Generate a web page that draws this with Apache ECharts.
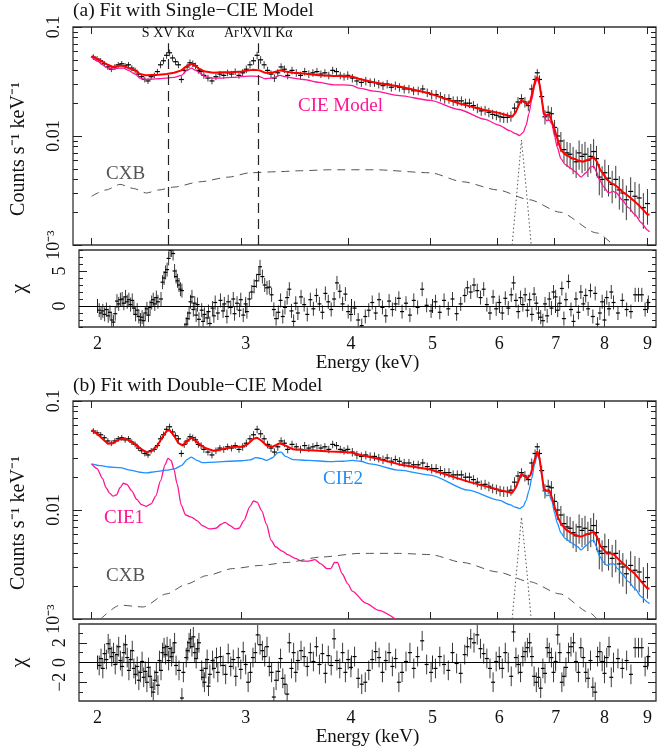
<!DOCTYPE html>
<html><head><meta charset="utf-8">
<script src="https://cdn.jsdelivr.net/npm/echarts@6/dist/echarts.min.js"></script>
<style>html,body{margin:0;padding:0;background:#fff}#c{width:657px;height:752px}</style>
</head><body><div id="c"></div><script>
// ---------------- data ----------------
const xTicks = [2, 3, 4, 5, 6, 7, 8, 9];
const yMajor = [0.001, 0.01, 0.1];
const resATicks = [0, 5];
const resBTicks = [-2, 0, 2];

// observed spectrum (same data in both panels)
const dataE = [2.01,2.03,2.05,2.07,2.09,2.11,2.13,2.15,2.17,2.19,2.21,2.23,2.25,2.27,2.29,2.31,2.33,2.35,2.37,2.39,
2.41,2.43,2.45,2.47,2.49,2.51,2.53,2.55,2.57,2.59,2.61,2.63,2.65,2.67,2.69,2.71,2.74,2.77,2.80,2.83,2.86,2.89,2.92,2.95,2.98,
3.01,3.04,3.07,3.10,3.13,3.16,3.19,3.22,3.25,3.28,3.31,3.34,3.37,3.40,3.44,3.48,3.52,3.56,3.60,3.64,3.68,3.72,3.76,3.80,3.84,3.88,3.92,3.96,
4.00,4.05,4.10,4.15,4.20,4.25,4.30,4.35,4.40,4.45,4.50,4.55,4.60,4.66,4.72,4.78,4.84,4.90,4.96,
5.02,5.08,5.14,5.20,5.26,5.32,5.38,5.44,5.50,5.56,5.62,5.68,5.74,5.80,5.86,5.92,5.98,
6.04,6.10,6.16,6.22,6.28,6.34,6.40,6.46,6.52,6.58,6.64,6.68,6.72,6.76,6.82,6.88,6.94,
7.00,7.06,7.12,7.18,7.24,7.30,7.36,7.42,7.48,7.54,7.60,7.66,7.72,7.78,7.84,7.90,7.96,
8.02,8.10,8.18,8.26,8.34,8.42,8.50,8.60,8.70,8.80,8.90,9.00];
const dataV = [0.053,0.051,0.049,0.046,0.043,0.041,0.043,0.045,0.046,0.044,0.045,0.042,0.040,0.037,0.035,0.033,0.032,0.035,0.036,0.039,
0.045,0.049,0.055,0.058,0.052,0.048,0.045,0.033,0.040,0.043,0.047,0.046,0.044,0.040,0.039,0.036,0.034,0.032,0.035,0.037,0.036,0.038,0.037,0.039,0.036,
0.038,0.041,0.045,0.049,0.055,0.050,0.045,0.040,0.037,0.034,0.038,0.043,0.041,0.036,0.040,0.038,0.036,0.039,0.037,0.038,0.039,0.037,0.038,0.036,0.040,0.039,0.036,0.035,
0.036,0.034,0.032,0.031,0.032,0.031,0.031,0.030,0.029,0.030,0.028,0.029,0.028,0.027,0.027,0.026,0.026,0.027,0.025,
0.024,0.024,0.023,0.022,0.022,0.021,0.021,0.021,0.020,0.020,0.019,0.018,0.017,0.0172,0.0165,0.0158,0.0155,
0.0150,0.0148,0.0148,0.0152,0.0180,0.0205,0.0220,0.0205,0.0190,0.0270,0.0330,0.0380,0.0330,0.0230,0.0150,0.0165,0.0160,
0.0120,0.0100,0.0090,0.0075,0.0070,0.0068,0.0062,0.0058,0.0070,0.0065,0.0068,0.0060,0.0065,0.0072,0.0062,0.0042,0.0040,
0.0046,0.0041,0.0036,0.0040,0.0032,0.0030,0.0026,0.0031,0.0028,0.0027,0.0022,0.0024];
const dataRelErr = [0.06,0.06,0.06,0.06,0.06,0.06,0.06,0.06,0.06,0.06,0.06,0.06,0.06,0.06,0.06,0.06,0.06,0.06,0.06,0.06,
0.07,0.07,0.07,0.07,0.07,0.07,0.07,0.07,0.07,0.07,0.07,0.07,0.07,0.07,0.07,0.07,0.07,0.07,0.07,0.07,0.07,0.07,0.07,0.07,0.07,
0.08,0.08,0.08,0.08,0.08,0.08,0.08,0.08,0.08,0.08,0.08,0.08,0.08,0.08,0.08,0.08,0.08,0.08,0.08,0.08,0.08,0.08,0.08,0.08,0.08,0.08,0.08,0.08,
0.09,0.09,0.09,0.09,0.09,0.09,0.09,0.09,0.09,0.09,0.09,0.09,0.09,0.09,0.09,0.09,0.09,0.09,0.09,
0.10,0.10,0.10,0.10,0.10,0.10,0.10,0.10,0.10,0.10,0.10,0.10,0.10,0.10,0.10,0.10,0.10,
0.11,0.11,0.11,0.11,0.11,0.11,0.10,0.11,0.11,0.10,0.09,0.08,0.09,0.11,0.15,0.15,0.15,
0.17,0.19,0.21,0.24,0.26,0.27,0.28,0.29,0.30,0.30,0.30,0.30,0.30,0.30,0.31,0.32,0.32,
0.32,0.32,0.33,0.33,0.34,0.34,0.35,0.35,0.35,0.35,0.36,0.36];

// panel (a) models
const redAE = [2.00,2.03,2.06,2.09,2.12,2.15,2.18,2.21,2.25,2.28,2.32,2.36,2.40,2.45,2.50,2.55,2.59,2.62,2.65,2.68,2.72,2.78,2.85,2.93,3.00,3.06,3.10,3.15,3.20,3.26,3.33,3.38,3.45,3.55,3.70,3.85,3.95,4.05,4.12,4.30,4.60,5.00,5.40,5.80,6.02,6.15,6.24,6.30,6.35,6.40,6.45,6.50,6.55,6.60,6.64,6.68,6.72,6.76,6.80,6.85,6.90,6.95,7.00,7.05,7.12,7.20,7.33,7.45,7.55,7.65,7.78,7.85,7.92,8.00,8.06,8.15,8.22,8.30,8.40,8.55,8.70,8.85,9.00,9.05];
const redAV = [0.054,0.051,0.048,0.045,0.043,0.044,0.044,0.042,0.040,0.037,0.036,0.0363,0.0365,0.037,0.038,0.040,0.044,0.046,0.044,0.041,0.039,0.038,0.0385,0.0385,0.039,0.040,0.0405,0.040,0.038,0.038,0.040,0.039,0.038,0.0375,0.036,0.0355,0.0355,0.035,0.0335,0.031,0.0285,0.0245,0.020,0.0172,0.0163,0.0155,0.0150,0.0165,0.0190,0.0215,0.0205,0.0195,0.0205,0.0260,0.0320,0.0350,0.0300,0.0220,0.0160,0.0155,0.0158,0.0135,0.0115,0.0095,0.0075,0.0068,0.0063,0.0060,0.0058,0.0060,0.0064,0.0058,0.0049,0.0044,0.0040,0.0037,0.0036,0.0034,0.0031,0.0028,0.0025,0.0022,0.0019,0.0019];
const cieAE = [2.00,2.03,2.06,2.09,2.12,2.15,2.18,2.21,2.25,2.28,2.32,2.36,2.40,2.45,2.50,2.55,2.59,2.62,2.65,2.68,2.72,2.78,2.85,2.93,3.00,3.06,3.10,3.15,3.20,3.26,3.33,3.38,3.45,3.55,3.70,3.85,3.95,4.05,4.12,4.30,4.60,5.00,5.40,5.80,6.02,6.20,6.30,6.37,6.43,6.48,6.53,6.58,6.63,6.68,6.72,6.76,6.80,6.85,6.90,6.95,7.00,7.05,7.12,7.20,7.30,7.40,7.52,7.62,7.72,7.78,7.84,7.90,8.00,8.10,8.20,8.28,8.40,8.55,8.70,8.85,9.00,9.05];
const cieAV = [0.053,0.049,0.045,0.042,0.041,0.042,0.042,0.040,0.037,0.034,0.033,0.0333,0.0335,0.034,0.0345,0.036,0.040,0.042,0.040,0.038,0.035,0.034,0.034,0.0345,0.035,0.0355,0.0355,0.035,0.0335,0.034,0.036,0.035,0.034,0.033,0.031,0.0295,0.0295,0.029,0.0275,0.0258,0.0235,0.0212,0.0175,0.0142,0.0126,0.0112,0.0105,0.0101,0.0108,0.0125,0.0160,0.0215,0.0290,0.0340,0.0300,0.0220,0.0155,0.0138,0.0140,0.0128,0.0100,0.0079,0.0062,0.0055,0.0051,0.0047,0.0042,0.0046,0.0052,0.0053,0.0047,0.0040,0.0034,0.0030,0.0031,0.0030,0.0026,0.0022,0.0019,0.0016,0.00137,0.00132];
const cxbAE = [2.00,2.08,2.16,2.24,2.32,2.40,2.50,2.68,2.90,3.07,3.30,3.52,3.81,4.30,5.00,5.46,6.00,6.54,7.10,7.85,8.20];
const cxbAV = [0.0028,0.0032,0.0036,0.0033,0.0030,0.0032,0.0034,0.0038,0.0042,0.0046,0.0047,0.0048,0.0049,0.0049,0.0046,0.0038,0.0032,0.0026,0.0020,0.00129,0.001];
const gauAE = [6.24,6.32,6.40,6.49,6.57];
const gauAV = [0.001,0.0030,0.0092,0.0030,0.001];
const lineE = [2.46, 3.14];
const lineNames = ['S XV Kα', 'Ar XVII Kα'];
const lineTop = 0.071;

// panel (b) models
const redBE = [2.00,2.03,2.06,2.09,2.12,2.15,2.18,2.21,2.25,2.29,2.32,2.35,2.39,2.42,2.45,2.47,2.50,2.53,2.56,2.59,2.62,2.65,2.68,2.72,2.78,2.85,2.93,3.00,3.05,3.10,3.13,3.17,3.21,3.26,3.33,3.38,3.45,3.55,3.70,3.81,3.95,4.05,4.14,4.30,4.60,5.00,5.54,6.02,6.24,6.30,6.35,6.40,6.45,6.50,6.56,6.62,6.68,6.72,6.77,6.80,6.86,6.90,6.95,7.00,7.06,7.12,7.22,7.33,7.45,7.52,7.65,7.78,7.85,7.92,8.00,8.06,8.15,8.22,8.30,8.40,8.55,8.70,8.85,9.00,9.05];
const redBV = [0.054,0.050,0.045,0.0405,0.041,0.044,0.045,0.044,0.040,0.036,0.034,0.0345,0.039,0.046,0.053,0.054,0.048,0.041,0.039,0.043,0.046,0.043,0.040,0.037,0.035,0.036,0.038,0.038,0.040,0.045,0.046,0.043,0.039,0.038,0.041,0.039,0.036,0.0355,0.035,0.0345,0.034,0.0335,0.032,0.030,0.0262,0.0235,0.0182,0.0153,0.0143,0.0160,0.0185,0.0215,0.0205,0.0195,0.0210,0.0275,0.0345,0.0300,0.0200,0.0155,0.0150,0.0152,0.0130,0.0107,0.0087,0.0075,0.0066,0.0061,0.0058,0.0057,0.0060,0.0063,0.0057,0.0047,0.0043,0.0040,0.0040,0.0039,0.0036,0.0033,0.0029,0.0026,0.0022,0.0019,0.0019];
const cie2E = [2.00,2.05,2.10,2.16,2.22,2.28,2.32,2.38,2.45,2.50,2.55,2.59,2.62,2.66,2.70,2.80,2.90,3.00,3.07,3.12,3.16,3.21,3.26,3.31,3.34,3.38,3.45,3.60,3.81,3.95,4.05,4.14,4.25,4.60,5.00,5.54,6.02,6.20,6.30,6.37,6.43,6.48,6.53,6.58,6.63,6.68,6.72,6.76,6.80,6.85,6.90,6.95,7.00,7.05,7.12,7.20,7.33,7.45,7.52,7.62,7.72,7.78,7.84,7.90,8.00,8.06,8.15,8.22,8.30,8.40,8.55,8.70,8.85,9.00,9.05];
const cie2V = [0.0265,0.0255,0.0248,0.0245,0.0232,0.0222,0.0219,0.0225,0.0232,0.0238,0.0255,0.0290,0.0306,0.0285,0.0272,0.0275,0.0280,0.0283,0.0288,0.0302,0.0298,0.0285,0.0300,0.0335,0.0340,0.0310,0.0290,0.0285,0.0278,0.0280,0.0285,0.0280,0.0265,0.0232,0.0209,0.0152,0.0123,0.0112,0.0106,0.0103,0.0108,0.0122,0.0150,0.0195,0.0260,0.0326,0.0290,0.0210,0.0150,0.0135,0.0137,0.0120,0.0094,0.0076,0.0062,0.0055,0.0050,0.0046,0.0043,0.0047,0.0052,0.0053,0.0046,0.0038,0.0033,0.0031,0.0032,0.0032,0.0029,0.0026,0.0022,0.0019,0.0016,0.00143,0.00138];
const cie1E = [2.00,2.03,2.06,2.08,2.10,2.12,2.14,2.16,2.18,2.20,2.23,2.26,2.29,2.32,2.35,2.38,2.41,2.44,2.46,2.48,2.50,2.52,2.55,2.58,2.62,2.66,2.70,2.75,2.80,2.84,2.87,2.91,2.95,2.98,3.02,3.07,3.10,3.13,3.17,3.21,3.25,3.29,3.35,3.40,3.47,3.53,3.60,3.66,3.72,3.78,3.82,3.86,3.89,3.94,4.00,4.05,4.20,4.35,4.55];
const cie1V = [0.0264,0.0240,0.0195,0.0160,0.0143,0.0134,0.0138,0.0160,0.0176,0.0172,0.0150,0.0125,0.0112,0.0108,0.0114,0.0135,0.0185,0.0260,0.0298,0.0285,0.0235,0.0175,0.0110,0.0090,0.0086,0.0080,0.0072,0.0067,0.0068,0.0074,0.0077,0.0072,0.0067,0.0068,0.0080,0.0108,0.0121,0.0118,0.0098,0.0074,0.0053,0.0046,0.0042,0.0039,0.0036,0.0034,0.0034,0.0035,0.0032,0.0029,0.0029,0.0033,0.0033,0.0026,0.0021,0.0018,0.0014,0.0012,0.0010];
const cxbBE = [2.05,2.16,2.30,2.45,2.59,2.73,2.93,3.16,3.39,3.72,4.14,4.60,5.00,5.46,6.00,6.54,7.10,7.70,7.85];
const cxbBV = [0.0010,0.00134,0.00129,0.0017,0.0021,0.0025,0.0029,0.0031,0.0033,0.0037,0.0040,0.0040,0.0039,0.0033,0.0027,0.0022,0.0017,0.00114,0.0010];
const gauBE = [6.24,6.32,6.40,6.49,6.57];
const gauBV = [0.001,0.0029,0.0086,0.0029,0.001];

// residuals (chi), error = 1 sigma
const resAE = [2.01,2.02,2.03,2.04,2.05,2.06,2.07,2.08,2.09,2.10,2.11,2.12,2.13,2.14,2.15,2.16,2.17,2.18,2.19,2.20,2.21,2.22,2.23,2.24,2.25,2.26,2.27,2.28,2.29,2.30,2.31,2.32,2.33,2.34,2.35,2.36,2.38,2.39,2.40,2.41,2.42,2.43,2.44,2.45,2.46,2.47,2.48,2.49,2.50,2.51,2.52,2.54,2.55,2.56,2.57,2.58,2.59,2.60,2.61,2.62,2.63,2.64,2.66,2.67,2.68,2.70,2.71,2.72,2.74,2.75,2.76,2.78,2.80,2.82,2.83,2.85,2.86,2.88,2.90,2.91,2.93,2.95,2.96,2.98,3.00,3.01,3.03,3.05,3.07,3.09,3.11,3.12,3.14,3.16,3.18,3.20,3.22,3.24,3.26,3.28,3.30,3.32,3.34,3.36,3.38,3.40,3.42,3.44,3.46,3.49,3.52,3.55,3.58,3.61,3.64,3.67,3.70,3.73,3.76,3.79,3.82,3.85,3.88,3.91,3.94,3.97,4.00,4.04,4.08,4.12,4.16,4.20,4.24,4.28,4.32,4.36,4.40,4.44,4.48,4.52,4.56,4.60,4.65,4.70,4.75,4.80,4.86,4.92,4.98,5.04,5.10,5.16,5.22,5.28,5.34,5.40,5.46,5.50,5.55,5.60,5.65,5.70,5.75,5.80,5.85,5.90,5.95,6.00,6.05,6.10,6.15,6.20,6.24,6.28,6.32,6.36,6.40,6.44,6.48,6.52,6.56,6.60,6.64,6.68,6.72,6.76,6.80,6.84,6.88,6.92,6.96,7.00,7.04,7.08,7.12,7.16,7.20,7.25,7.30,7.35,7.40,7.45,7.50,7.55,7.60,7.65,7.70,7.75,7.80,7.85,7.90,7.95,8.00,8.05,8.10,8.15,8.20,8.30,8.40,8.50,8.60,8.70,8.78,8.86,8.94,9.02];
const resAV = [-0.6,-1.0,-0.7,-1.2,-0.5,-1.4,-0.9,-2.0,-2.3,-1.1,0.7,0.3,0.9,1.0,0.4,1.3,0.6,0.9,0.2,0.8,-0.3,-1.2,-0.6,-1.5,-2.0,-1.6,-2.1,-1.0,-0.4,-1.3,-0.2,0.5,0.9,0.3,1.2,0.6,1.0,3.4,4.0,4.8,5.2,6.8,8.0,8.0,7.5,5.0,4.2,3.6,3.0,2.4,2.2,-3.5,-2.6,-1.8,-1.0,0.6,1.3,-0.5,0.4,-1.3,0.2,-1.9,-0.6,-2.2,-1.2,-1.7,-0.8,-2.5,-0.3,-1.4,0.5,-1.0,0.8,-0.7,0.3,-1.5,0.6,-0.2,1.0,-1.1,0.4,-0.6,0.9,-1.3,0.3,-0.8,1.0,2.0,2.8,3.6,4.5,5.6,4.2,3.0,2.6,2.7,1.6,-0.5,-1.8,-0.9,0.8,-1.5,-0.2,1.2,2.4,-0.7,-2.2,0.4,-1.0,1.3,0.2,-1.2,0.9,-0.4,1.5,0.3,-0.9,1.8,0.6,-0.5,1.0,3.3,2.1,0.3,1.7,-0.8,-1.2,-0.3,-2.0,-2.8,-1.5,-0.6,0.5,-1.0,0.9,-0.2,-1.4,0.7,-0.5,0.3,1.1,-0.8,0.4,-1.3,0.8,-0.2,2.4,0.1,-0.7,0.6,-0.9,0.8,-0.4,1.0,-1.1,0.3,1.5,2.6,2.0,3.0,2.2,1.2,2.4,0.2,-1.0,1.3,-0.4,0.5,-1.0,1.1,-0.3,1.6,3.3,0.8,-0.8,1.2,0.2,1.6,-0.6,0.9,-1.2,1.7,0.4,-1.0,-1.6,-2.1,0.3,-1.4,1.0,-0.3,2.0,1.3,-0.6,0.4,2.5,-1.8,0.9,3.5,-0.5,-2.2,1.0,-0.9,2.0,0.3,1.5,-0.4,2.2,-1.5,1.8,-2.6,-1.0,0.6,-2.0,1.2,-0.4,2.0,0.5,-1.0,0.8,-0.5,-0.8,1.6,1.6,1.6,-0.5,0.5];
const resBE = [2.01,2.02,2.03,2.04,2.05,2.06,2.07,2.08,2.09,2.10,2.11,2.12,2.13,2.14,2.15,2.16,2.17,2.18,2.19,2.20,2.21,2.22,2.23,2.24,2.25,2.26,2.27,2.28,2.29,2.30,2.31,2.32,2.33,2.34,2.35,2.36,2.37,2.38,2.39,2.40,2.41,2.42,2.43,2.44,2.45,2.46,2.47,2.48,2.50,2.52,2.53,2.55,2.56,2.57,2.58,2.59,2.60,2.61,2.62,2.63,2.64,2.66,2.67,2.68,2.69,2.70,2.71,2.72,2.74,2.75,2.77,2.78,2.80,2.82,2.84,2.86,2.88,2.90,2.92,2.94,2.96,2.98,3.00,3.02,3.04,3.06,3.08,3.10,3.12,3.14,3.16,3.18,3.20,3.22,3.24,3.26,3.28,3.30,3.32,3.34,3.36,3.38,3.40,3.42,3.44,3.46,3.49,3.52,3.55,3.58,3.61,3.64,3.67,3.70,3.73,3.76,3.79,3.82,3.85,3.88,3.91,3.94,3.97,4.00,4.04,4.08,4.12,4.16,4.20,4.24,4.28,4.32,4.36,4.40,4.44,4.48,4.52,4.56,4.60,4.65,4.70,4.75,4.80,4.86,4.92,4.98,5.04,5.10,5.16,5.22,5.28,5.34,5.40,5.46,5.50,5.55,5.60,5.65,5.70,5.75,5.80,5.85,5.90,5.95,6.00,6.05,6.10,6.15,6.20,6.24,6.28,6.32,6.36,6.40,6.44,6.48,6.52,6.56,6.60,6.64,6.68,6.72,6.76,6.80,6.84,6.88,6.92,6.96,7.00,7.04,7.08,7.12,7.16,7.20,7.25,7.30,7.35,7.40,7.45,7.50,7.55,7.60,7.65,7.70,7.75,7.80,7.85,7.90,7.95,8.00,8.05,8.10,8.15,8.20,8.30,8.40,8.50,8.60,8.70,8.78,8.86,8.94,9.02];
const resBV = [-0.3,0.4,-0.6,0.9,0.3,1.9,1.4,0.6,1.0,-0.2,0.8,1.6,0.2,-0.4,1.0,1.8,0.5,-0.8,0.3,1.2,-0.6,-1.2,-0.4,-1.8,-1.0,0.1,-1.5,-0.9,-2.0,-0.5,-1.4,-2.5,-3.0,-1.8,-1.0,-2.3,0.2,-0.8,1.0,1.5,0.8,1.6,0.2,1.4,0.6,1.0,2.0,-0.3,-0.8,-3.6,-1.0,0.5,1.2,2.0,2.4,1.6,2.6,1.0,0.4,1.4,2.0,-0.8,-1.5,-2.0,-0.6,0.3,-2.4,-1.2,0.2,-0.6,0.5,-1.0,0.6,-0.3,-1.2,0.9,-0.4,0.3,-1.4,0.5,-0.7,1.1,-0.2,-2.0,-1.0,0.5,1.0,2.8,1.8,1.2,0.6,1.6,-0.4,-1.0,-3.5,-1.8,-0.9,0.4,-1.6,-2.2,-3.2,2.0,-0.6,1.0,-1.0,0.2,1.2,0.6,-0.4,1.0,0.1,1.6,-0.2,0.9,-1.1,0.7,-0.3,2.4,0.2,-0.6,1.0,-1.0,0.3,-0.5,0.6,-1.6,-2.2,-2.0,-0.8,0.3,1.1,0.5,-1.0,0.2,1.0,-0.4,0.4,-2.0,-1.0,0.1,1.0,-0.6,0.6,2.2,-0.2,-1.0,-0.6,0.6,-0.2,-0.8,1.0,-0.1,-1.1,0.8,1.6,2.4,2.0,2.8,1.4,0.9,0.4,-0.6,-2.0,0.1,0.6,-0.6,1.0,0.0,-1.4,3.1,0.5,-0.2,-1.0,0.6,1.1,1.5,2.0,0.6,-1.4,-2.0,-1.5,-2.6,-0.6,-1.1,1.5,1.0,0.5,-1.0,0.1,2.8,1.0,-2.0,-1.4,-0.5,1.0,1.6,2.0,0.1,-1.0,1.5,0.5,-1.0,-1.6,0.2,-2.5,-3.0,0.6,1.1,0.1,-1.1,0.5,1.6,-1.5,0.0,0.4,-0.6,0.2,-1.2,1.5,1.5,1.5,-0.4,0.6];

// ---------------- chart ----------------
const F = '"Liberation Serif","Times New Roman",serif';
const XMIN = 1.902, XMAX = 9.21;
const INK = '#111';
const yMinorTicks = [];
[0.001, 0.01].forEach(d => { for (let k = 1; k <= 9; k++) yMinorTicks.push(d * k); });
yMinorTicks.push(0.1);
const pairs = (E, V) => E.map((e, i) => [e, V[i]]);
const logLabel = v => { const p = Math.round(Math.log10(v)); return p === -1 ? '0.1' : p === -2 ? '0.01' : '10⁻³'; };
const chiLabel = v => v < 0 ? '−' + Math.abs(v) : String(v);

const grids = [
  {left: 73, top: 27, width: 583, height: 218},
  {left: 73, top: 250, width: 583, height: 77},
  {left: 73, top: 401, width: 583, height: 218},
  {left: 73, top: 624, width: 583, height: 77}
].map(g => Object.assign(g, {show: true, borderColor: '#333', borderWidth: 1.3, backgroundColor: 'transparent'}));

const xAxes = [], yAxes = [];
function addX(grid, pos, labels) {
  xAxes.push({
    type: 'log', gridIndex: grid, position: pos, min: XMIN, max: XMAX,
    axisLine: {show: false}, splitLine: {show: false},
    axisTick: {show: true, inside: true, length: 7, customValues: xTicks, lineStyle: {color: '#222', width: 1}},
    axisLabel: {show: labels, customValues: xTicks, formatter: v => String(Math.round(v)), color: INK, fontFamily: F, fontSize: 18, margin: 8},
    name: labels ? 'Energy (keV)' : '', nameLocation: 'middle', nameGap: 27,
    nameTextStyle: {fontFamily: F, fontSize: 19, color: INK}
  });
  return xAxes.length - 1;
}
function addYSpec(grid, pos, minor) {
  yAxes.push({
    type: 'log', gridIndex: grid, position: pos, min: 0.001, max: 0.1,
    axisLine: {show: false}, splitLine: {show: false},
    axisTick: {show: true, inside: true, length: minor ? 5 : 9, customValues: minor ? yMinorTicks : yMajor, lineStyle: {color: '#222', width: 1}},
    axisLabel: {show: !minor && pos === 'left', customValues: yMajor, rotate: 90, formatter: logLabel, color: INK, fontFamily: F, fontSize: 18, margin: 10},
    name: (!minor && pos === 'left') ? 'Counts s⁻¹ keV⁻¹' : '', nameLocation: 'middle', nameGap: 44, nameRotate: 90,
    nameTextStyle: {fontFamily: F, fontSize: 20, color: INK, padding: [0, 26, 0, 0]}
  });
  return yAxes.length - 1;
}
function addYRes(grid, pos, minor, lo, hi, major) {
  const all = [];
  for (let k = Math.ceil(lo); k <= Math.floor(hi); k++) all.push(k);
  yAxes.push({
    type: 'value', gridIndex: grid, position: pos, min: lo, max: hi,
    axisLine: {show: false}, splitLine: {show: false},
    axisTick: {show: true, inside: true, length: minor ? 4 : 8, customValues: minor ? all : major, lineStyle: {color: '#222', width: 1}},
    axisLabel: {show: !minor && pos === 'left', customValues: major, rotate: 90, formatter: chiLabel, color: INK, fontFamily: F, fontSize: 18, margin: 10},
    name: (!minor && pos === 'left') ? 'χ' : '', nameLocation: 'middle', nameGap: 49, nameRotate: 90,
    nameTextStyle: {fontFamily: F, fontSize: 22, color: INK}
  });
  return yAxes.length - 1;
}

// axes per grid
const X0 = addX(0, 'bottom', false); addX(0, 'top', false);
const Y0 = addYSpec(0, 'left', false); addYSpec(0, 'left', true); addYSpec(0, 'right', false); addYSpec(0, 'right', true);
const X1 = addX(1, 'bottom', true); addX(1, 'top', false);
const Y1 = addYRes(1, 'left', false, -3, 8, resATicks); addYRes(1, 'left', true, -3, 8, resATicks); addYRes(1, 'right', false, -3, 8, resATicks); addYRes(1, 'right', true, -3, 8, resATicks);
const X2 = addX(2, 'bottom', false); addX(2, 'top', false);
const Y2 = addYSpec(2, 'left', false); addYSpec(2, 'left', true); addYSpec(2, 'right', false); addYSpec(2, 'right', true);
const X3 = addX(3, 'bottom', true); addX(3, 'top', false);
const Y3 = addYRes(3, 'left', false, -3.9, 3.9, resBTicks); addYRes(3, 'left', true, -3.9, 3.9, resBTicks); addYRes(3, 'right', false, -3.9, 3.9, resBTicks); addYRes(3, 'right', true, -3.9, 3.9, resBTicks);

function specRender(params, api) {
  const e = api.value(0), v = api.value(1), r = api.value(2);
  const c = api.coord([e, v]);
  const lo = api.coord([e, v * (1 - r)]), hi = api.coord([e, v * (1 + r)]);
  return {type: 'group', children: [
    {type: 'line', shape: {x1: c[0], y1: lo[1], x2: c[0], y2: hi[1]}, style: {stroke: '#3a3a3a', lineWidth: 1}},
    {type: 'line', shape: {x1: c[0] - 2.5, y1: c[1], x2: c[0] + 2.5, y2: c[1]}, style: {stroke: '#000', lineWidth: 1.2}}
  ]};
}
function resRender(params, api) {
  const e = api.value(0), v = api.value(1);
  const c = api.coord([e, v]);
  const lo = api.coord([e, v - 1]), hi = api.coord([e, v + 1]);
  return {type: 'group', children: [
    {type: 'line', shape: {x1: c[0], y1: lo[1], x2: c[0], y2: hi[1]}, style: {stroke: '#3a3a3a', lineWidth: 1}},
    {type: 'line', shape: {x1: c[0] - 2, y1: c[1], x2: c[0] + 2, y2: c[1]}, style: {stroke: '#000', lineWidth: 1.2}}
  ]};
}
const specData = dataE.map((e, i) => [e, dataV[i], dataRelErr[i]]);
function lineS(xi, yi, E, V, color, width, type, z, smooth) {
  return {type: 'line', xAxisIndex: xi, yAxisIndex: yi, data: pairs(E, V), showSymbol: false, symbol: 'none',
    smooth: smooth ? 0.25 : false, smoothMonotone: 'x', lineStyle: {color, width, type}, z, silent: true, animation: false};
}
const zeroLine = {silent: true, symbol: 'none', data: [{yAxis: 0}], label: {show: false}, lineStyle: {color: '#000', width: 1.2, type: 'solid'}, animation: false};

const series = [
  {type: 'custom', xAxisIndex: X0, yAxisIndex: Y0, data: specData, renderItem: specRender, clip: true, z: 2, encode: {x: 0, y: 1}, animation: false},
  lineS(X0, Y0, cieAE, cieAV, '#ff1493', 1.3, 'solid', 3, true),
  Object.assign(lineS(X0, Y0, cxbAE, cxbAV, '#555', 1, [8, 6], 3, true), {
    markLine: {silent: true, symbol: 'none', animation: false,
      lineStyle: {color: '#222', width: 1.2, type: [10, 6]},
      label: {show: true, position: 'end', formatter: '{b}', color: INK, fontFamily: F, fontSize: 14, distance: 3},
      data: lineE.map((e, i) => [{coord: [e, 0.001], name: lineNames[i]}, {coord: [e, lineTop]}])}
  }),
  lineS(X0, Y0, gauAE, gauAV, '#555', 1, [1.5, 2.5], 3, false),
  lineS(X0, Y0, redAE, redAV, '#ff0000', 2, 'solid', 4, false),
  {type: 'custom', xAxisIndex: X1, yAxisIndex: Y1, data: pairs(resAE, resAV), renderItem: resRender, clip: true, z: 2, encode: {x: 0, y: 1}, markLine: zeroLine, animation: false},

  {type: 'custom', xAxisIndex: X2, yAxisIndex: Y2, data: specData, renderItem: specRender, clip: true, z: 2, encode: {x: 0, y: 1}, animation: false},
  lineS(X2, Y2, cie2E, cie2V, '#1e90ff', 1.3, 'solid', 3, true),
  lineS(X2, Y2, cie1E, cie1V, '#ff1493', 1.3, 'solid', 3, true),
  lineS(X2, Y2, cxbBE, cxbBV, '#555', 1, [8, 6], 3, true),
  lineS(X2, Y2, gauBE, gauBV, '#555', 1, [1.5, 2.5], 3, false),
  lineS(X2, Y2, redBE, redBV, '#ff0000', 2, 'solid', 4, false),
  {type: 'custom', xAxisIndex: X3, yAxisIndex: Y3, data: pairs(resBE, resBV), renderItem: resRender, clip: true, z: 2, encode: {x: 0, y: 1}, markLine: zeroLine, animation: false}
];

const txt = (left, top, text, color, size) => ({type: 'text', left, top, silent: true, style: {text, fill: color, font: size + 'px ' + F}});

const chart = echarts.init(document.getElementById('c'), null, {renderer: 'canvas'});
chart.setOption({
  animation: false,
  backgroundColor: '#fff',
  title: [
    {text: '(a) Fit with Single−CIE Model', left: 73, top: 1, padding: 0, textStyle: {fontFamily: F, fontSize: 19.5, fontWeight: 'normal', color: INK}},
    {text: '(b) Fit with Double−CIE Model', left: 73, top: 376, padding: 0, textStyle: {fontFamily: F, fontSize: 19.5, fontWeight: 'normal', color: INK}}
  ],
  grid: grids, xAxis: xAxes, yAxis: yAxes, series,
  graphic: [
    txt(298, 97, 'CIE Model', '#ff1493', 19),
    txt(106, 165, 'CXB', '#555', 19),
    txt(323, 470, 'CIE2', '#1e90ff', 19),
    txt(104, 509, 'CIE1', '#ff1493', 19),
    txt(106, 567, 'CXB', '#555', 19)
  ]
});
</script></body></html>
